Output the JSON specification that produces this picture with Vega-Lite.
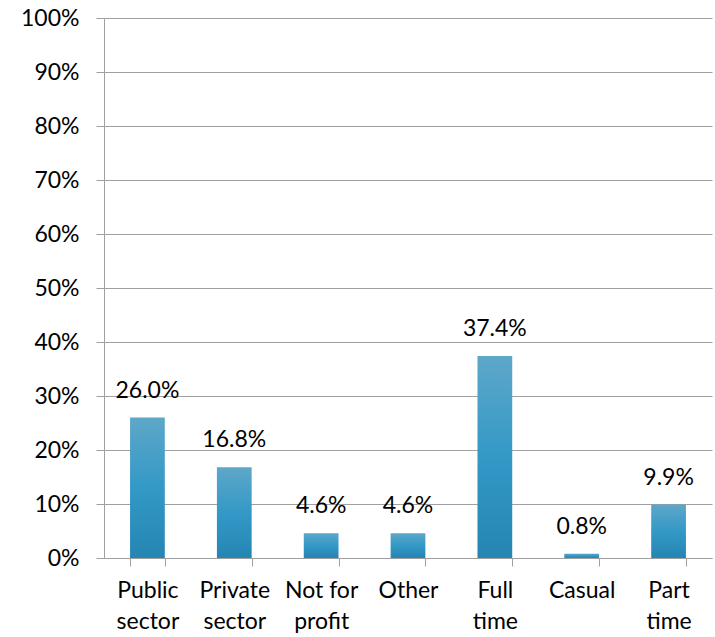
{
  "$schema": "https://vega.github.io/schema/vega-lite/v6.json",
  "width": 608,
  "height": 540,
  "autosize": "none",
  "padding": {"left": 104, "top": 18, "right": 3, "bottom": 79},
  "background": "white",
  "config": {
    "font": "Lato",
    "view": {"stroke": null}
  },
  "data": {
    "values": [
      {"category": "Public sector", "value": 0.26},
      {"category": "Private sector", "value": 0.168},
      {"category": "Not for profit", "value": 0.046},
      {"category": "Other", "value": 0.046},
      {"category": "Full time", "value": 0.374},
      {"category": "Casual", "value": 0.008},
      {"category": "Part time", "value": 0.099}
    ]
  },
  "encoding": {
    "x": {
      "field": "category",
      "type": "nominal",
      "sort": null,
      "scale": {"paddingInner": 0.6, "paddingOuter": 0.3},
      "axis": {
        "title": null,
        "labelAngle": 0,
        "labelFontSize": 23,
        "labelColor": "#000000",
        "labelPadding": 13,
        "labelLineHeight": 31,
        "labelBaseline": "top",
        "labelExpr": "datum.label == 'Not for profit' ? ['Not for', 'profit'] : split(datum.label, ' ')",
        "tickBand": "extent",
        "tickSize": 8,
        "tickColor": "#a0a0a0",
        "domainColor": "#a0a0a0",
        "grid": false
      }
    },
    "y": {
      "field": "value",
      "type": "quantitative",
      "scale": {"domain": [0, 1], "nice": false},
      "axis": {
        "title": null,
        "format": ".0%",
        "values": [0, 0.1, 0.2, 0.3, 0.4, 0.5, 0.6, 0.7, 0.8, 0.9, 1],
        "labelFontSize": 23,
        "labelColor": "#000000",
        "labelPadding": 17,
        "tickSize": 8,
        "tickColor": "#a0a0a0",
        "domainColor": "#a0a0a0",
        "gridColor": "#a0a0a0",
        "gridOpacity": 1,
        "grid": true
      }
    }
  },
  "layer": [
    {
      "mark": {
        "type": "bar",
        "fill": {
          "gradient": "linear",
          "x1": 0, "y1": 0, "x2": 0, "y2": 1,
          "stops": [
            {"offset": 0, "color": "#5ea7c9"},
            {"offset": 0.5, "color": "#3399c6"},
            {"offset": 1, "color": "#2585b3"}
          ]
        }
      }
    },
    {
      "mark": {"type": "text", "dy": -27, "fontSize": 23, "color": "#000000"},
      "encoding": {
        "text": {"field": "value", "type": "quantitative", "format": ".1%"}
      }
    }
  ]
}
